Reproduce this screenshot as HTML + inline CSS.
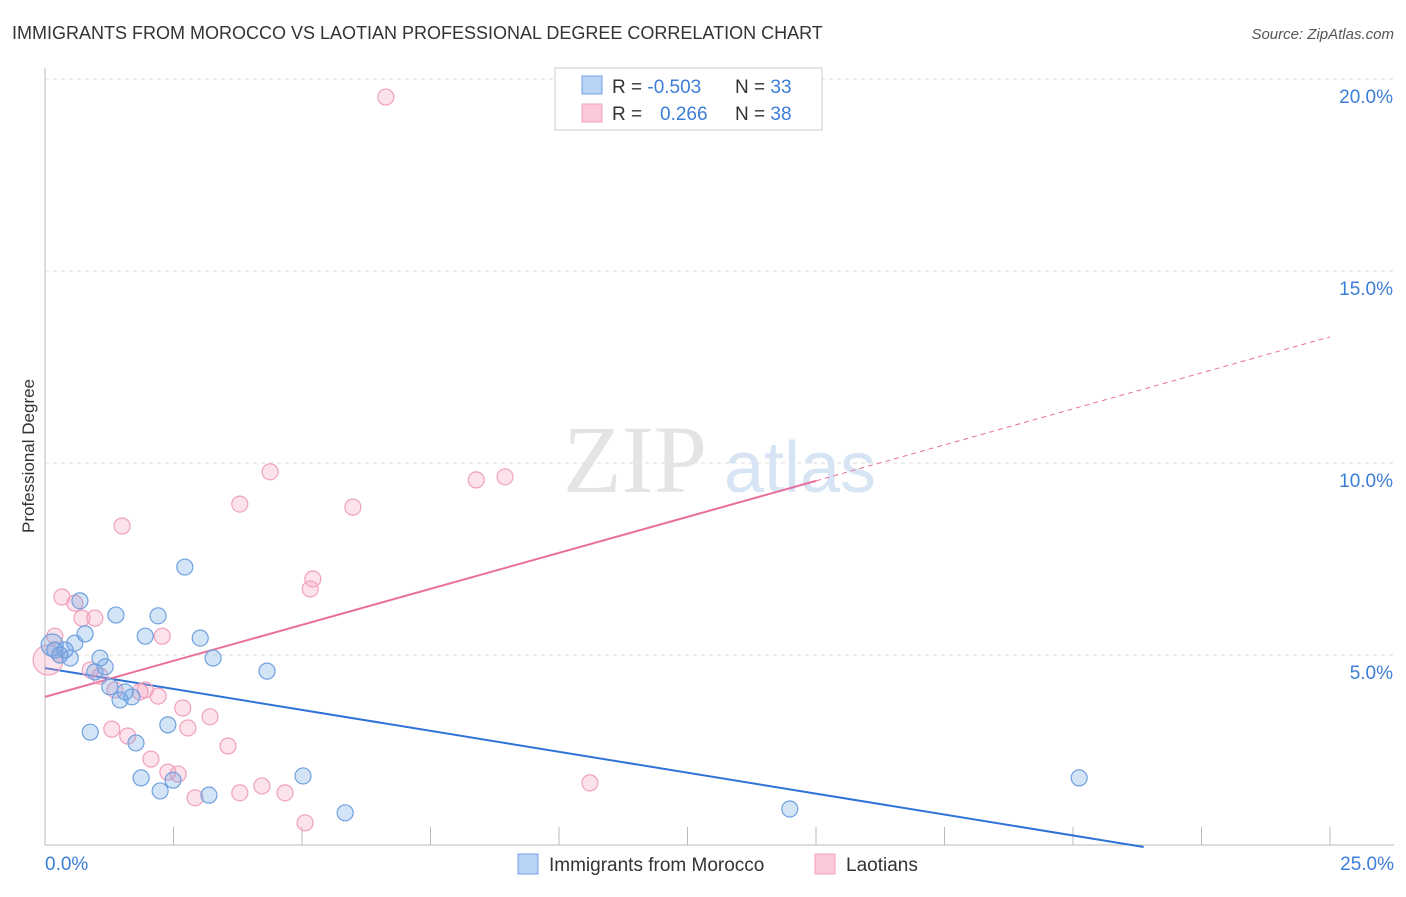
<!DOCTYPE html>
<html><head><meta charset="utf-8"><style>
body{margin:0;background:#fff;font-family:"Liberation Sans",sans-serif;}
</style></head><body>
<svg id="chart" width="1406" height="892" xmlns="http://www.w3.org/2000/svg">
<text x="12" y="39" font-size="18" fill="#333">IMMIGRANTS FROM MOROCCO VS LAOTIAN PROFESSIONAL DEGREE CORRELATION CHART</text>
<text x="1394" y="39" font-size="15" fill="#555" font-style="italic" text-anchor="end">Source: ZipAtlas.com</text>
<text x="34" y="456" font-size="17" fill="#333" transform="rotate(-90 34 456)" text-anchor="middle">Professional Degree</text>
<g id="grid"></g>
<text x="635" y="492" font-size="96" fill="#e4e4e4" font-family="Liberation Serif,serif" text-anchor="middle">ZIP</text>
<text x="800" y="492" font-size="72" fill="#d6e4f4" text-anchor="middle">atlas</text>
<g id="lines"></g>
<g id="points"></g>
<g>
<rect x="555" y="68" width="267" height="62" fill="#fff" stroke="#ccc"/>
<rect x="582" y="76" width="20" height="18" fill="#b8d3f5" stroke="#6fa0e0"/>
<rect x="582" y="104" width="20" height="18" fill="#fbc8d8" stroke="#f0a0bc"/>
<text x="612" y="93" font-size="19" fill="#333">R = <tspan fill="#3b7dd8">-0.503</tspan></text>
<text x="735" y="93" font-size="19" fill="#333">N = <tspan fill="#3b7dd8">33</tspan></text>
<text x="612" y="120" font-size="19" fill="#333">R = <tspan fill="#3b7dd8" x="660">0.266</tspan></text>
<text x="735" y="120" font-size="19" fill="#333">N = <tspan fill="#3b7dd8">38</tspan></text>
</g>
<g>
<rect x="518" y="854" width="20" height="20" fill="#b8d3f5" stroke="#6fa0e0"/>
<text x="549" y="871" font-size="19" fill="#333">Immigrants from Morocco</text>
<rect x="815" y="854" width="20" height="20" fill="#fbc8d8" stroke="#f0a0bc"/>
<text x="846" y="871" font-size="19" fill="#333">Laotians</text>
</g>
</svg>
<script>
const blueX=[0.14,0.19,0.29,0.39,0.49,0.58,0.68,0.78,1.07,1.17,0.97,1.26,1.38,1.46,1.56,1.69,1.77,0.88,1.87,1.95,2.20,2.24,2.39,2.49,2.72,3.02,3.19,3.27,4.32,5.02,5.84,14.49,20.12];
const blueY=[5.26,5.13,5.0,5.13,4.92,5.31,6.41,5.55,4.92,4.69,4.56,4.17,6.04,3.83,4.04,3.91,2.71,2.99,1.80,5.49,6.02,1.46,3.18,1.74,7.29,5.44,1.35,4.92,4.58,1.85,0.89,0.99,1.80];
const pinkX=[0.06,0.19,0.33,0.58,0.72,0.97,0.29,0.88,1.07,1.30,1.50,1.61,1.36,1.85,1.95,2.06,2.20,2.28,2.39,2.59,2.68,2.78,2.92,3.21,3.56,3.79,3.79,4.22,4.38,4.67,5.06,5.16,5.21,5.99,6.63,8.39,8.95,10.60];
const pinkY=[4.87,5.49,6.51,6.35,5.96,5.96,5.0,4.61,4.45,3.07,8.36,2.89,4.09,4.04,4.09,2.29,3.93,5.49,1.95,1.90,3.62,3.10,1.28,3.39,2.63,8.93,1.41,1.59,9.77,1.41,0.63,6.72,6.98,8.85,19.53,9.56,9.64,1.67];
const yTicks=[5,10,15,20];
const yTickLabels=["5.0%","10.0%","15.0%","20.0%"];
const xTicks=[0,2.5,5,7.5,10,12.5,15,17.5,20,22.5,25];
const blueFit=[4.66,-0.218]; // intercept, slope
const pinkFit=[3.91,0.375];
const NS="http://www.w3.org/2000/svg";
const sx=v=>45+v*51.4, sy=v=>847-v*38.4;
function mk(tag,attrs,parent){const e=document.createElementNS(NS,tag);for(const k in attrs)e.setAttribute(k,attrs[k]);parent.appendChild(e);return e;}
const grid=document.getElementById('grid');
yTicks.forEach((t,i)=>{
 const l=mk('line',{x1:45,x2:1394,y1:sy(t),y2:sy(t),stroke:'#ddd','stroke-dasharray':'4,4'},grid);
 
 
 const tx=mk('text',{x:1393,y:sy(t)+24,'font-size':19,fill:'#3b7dd8','text-anchor':'end'},grid);
 tx.textContent=yTickLabels[i];
 
 
});
const ax=mk('line',{x1:45,x2:45,y1:68,y2:845,stroke:'#bbb'},grid);


const bx=mk('line',{x1:45,x2:1394,y1:845,y2:845,stroke:'#bbb'},grid);


xTicks.forEach(t=>{
 const l=mk('line',{x1:sx(t),x2:sx(t),y1:827,y2:845,stroke:'#bbb'},grid);
 
 
});
const xl0=mk('text',{x:45,y:870,'font-size':19,fill:'#3b7dd8'},grid);xl0.textContent='0.0%';


const xl1=mk('text',{x:1394,y:870,'font-size':19,fill:'#3b7dd8','text-anchor':'end'},grid);xl1.textContent='25.0%';


const pts=document.getElementById('points');
pinkX.forEach((x,i)=>{
 const c=mk('circle',{cx:sx(x),cy:sy(pinkY[i]),r:i===0?15:8,fill:'rgba(244,160,190,0.3)',stroke:'#f0a0bc','stroke-width':1.2},pts);
 
 
});
blueX.forEach((x,i)=>{
 const c=mk('circle',{cx:sx(x),cy:sy(blueY[i]),r:i===0?11:8,fill:'rgba(110,165,230,0.3)',stroke:'#6fa0e0','stroke-width':1.2},pts);
 
 
});
const lines=document.getElementById('lines');
const bEnd=-blueFit[0]/blueFit[1];
const bl=mk('line',{x1:sx(0),y1:sy(blueFit[0]),x2:sx(bEnd),y2:sy(0),stroke:'#2f72d8','stroke-width':2},lines);


const pl=mk('line',{x1:sx(0),y1:sy(pinkFit[0]),x2:sx(15),y2:sy(pinkFit[0]+15*pinkFit[1]),stroke:'#e8709a','stroke-width':2},lines);


const pd=mk('line',{x1:sx(15),y1:sy(pinkFit[0]+15*pinkFit[1]),x2:sx(25),y2:sy(pinkFit[0]+25*pinkFit[1]),stroke:'#e8709a','stroke-width':1,'stroke-dasharray':'5,4'},lines);


</script>
</body></html>
